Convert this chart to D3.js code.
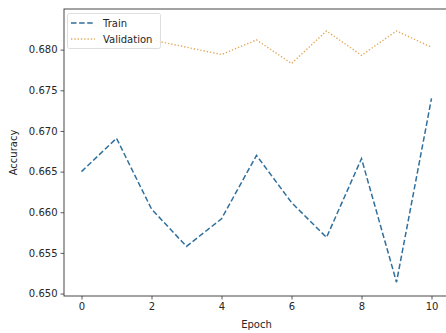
<!DOCTYPE html>
<html>
<head>
<meta charset="utf-8">
<script src="https://cdn.jsdelivr.net/npm/d3@7"></script>
<style>
  body { margin: 0; background: #fff; }
  svg { display: block; font-family: "DejaVu Sans", sans-serif; }
</style>
</head>
<body>
<svg id="chart" width="446" height="333"></svg>
<script>
// values
var epochs = [0, 1, 2, 3, 4, 5, 6, 7, 8, 9, 10];
var trainAcc = [0.6650, 0.6691, 0.6604, 0.6558, 0.6592, 0.6670, 0.6612, 0.6569, 0.6666, 0.6514, 0.6740];
var valAcc = [0.6834, 0.6822, 0.6812, 0.6803, 0.6794, 0.6812, 0.6783, 0.6823, 0.6793, 0.6823, 0.6803];
var xTicks = [0, 2, 4, 6, 8, 10];
var yTicks = [0.650, 0.655, 0.660, 0.665, 0.670, 0.675, 0.680];

var svg = d3.select("#chart");
// plot box (right spine falls just outside the picture, as in the reference)
var plotL = 64, plotT = 9, plotR = 449, plotB = 296;

var x = d3.scaleLinear().domain([-0.5, 10.5]).range([plotL, plotR]);
var y = d3.scaleLinear().domain([0.6497, 0.6850]).range([plotB, plotT]);

var textColor = "#262626";

// axes
var xAxis = svg.append("g")
	.attr("transform", "translate(0," + plotB + ")")
	.call(d3.axisBottom(x).tickValues(xTicks).tickSize(3.5).tickPadding(3).tickFormat(d3.format("d")));
var yAxis = svg.append("g")
	.attr("transform", "translate(" + plotL + ",0)")
	.call(d3.axisLeft(y).tickValues(yTicks).tickSize(3.5).tickPadding(3).tickFormat(d3.format(".3f")));

[xAxis, yAxis].forEach(function(a){
	a.select(".domain").remove();
	a.selectAll("line").attr("stroke", "#333").attr("stroke-width", 0.8);
	a.selectAll("text").attr("fill", textColor).style("font-size", "10px").style("font-family", "DejaVu Sans, sans-serif");
});

// spines
svg.append("rect")
	.attr("x", plotL).attr("y", plotT)
	.attr("width", plotR - plotL).attr("height", plotB - plotT)
	.attr("fill", "none").attr("stroke", "#333").attr("stroke-width", 0.9);

var line = function(vals){
	return d3.line()
		.x(function(d, i){ return x(epochs[i]); })
		.y(function(d){ return y(d); })(vals);
};

svg.append("path")
	.attr("d", line(valAcc))
	.attr("fill", "none")
	.attr("stroke", "#e3a857")
	.attr("stroke-width", 1.4)
	.attr("stroke-dasharray", "1.3,2");

svg.append("path")
	.attr("d", line(trainAcc))
	.attr("fill", "none")
	.attr("stroke", "#2e6f9e")
	.attr("stroke-width", 1.5)
	.attr("stroke-dasharray", "5.5,2.6");

// axis labels
svg.append("text")
	.attr("x", (plotL + plotR) / 2).attr("y", 328)
	.attr("text-anchor", "middle")
	.attr("fill", textColor).style("font-size", "10px")
	.text("Epoch");

svg.append("text")
	.attr("transform", "translate(17," + ((plotT + plotB) / 2) + ") rotate(-90)")
	.attr("text-anchor", "middle")
	.attr("fill", textColor).style("font-size", "10px")
	.text("Accuracy");

// legend
var legend = svg.append("g");
legend.append("rect")
	.attr("x", 67.5).attr("y", 13.5).attr("width", 93).attr("height", 35).attr("rx", 2)
	.attr("fill", "#fff").attr("fill-opacity", 0.85)
	.attr("stroke", "#d6d6d6").attr("stroke-width", 0.8);

var items = [
	{name: "Train", color: "#2e6f9e", dash: "5.5,2.6", w: 1.5},
	{name: "Validation", color: "#e3a857", dash: "1.3,2", w: 1.4}
];
items.forEach(function(it, i){
	var yy = 23 + i * 16;
	legend.append("line")
		.attr("x1", 71).attr("x2", 95).attr("y1", yy).attr("y2", yy)
		.attr("stroke", it.color).attr("stroke-width", it.w)
		.attr("stroke-dasharray", it.dash);
	legend.append("text")
		.attr("x", 103).attr("y", yy + 3.5)
		.attr("fill", textColor).style("font-size", "10px")
		.text(it.name);
});
</script>
</body>
</html>
